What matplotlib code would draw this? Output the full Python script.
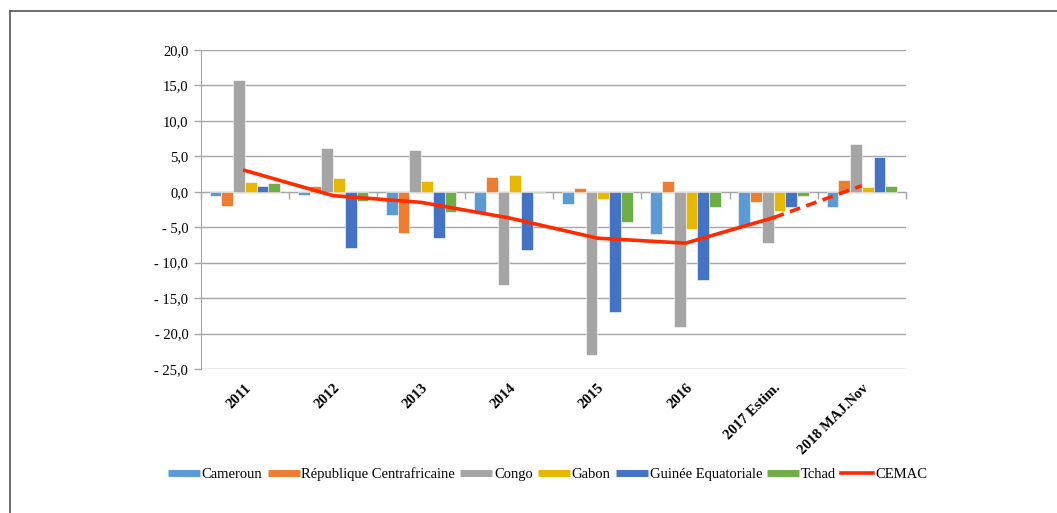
import matplotlib.pyplot as plt
import numpy as np
from matplotlib.lines import Line2D
from matplotlib.ticker import FuncFormatter, FixedLocator

# Categories and series
years = ['2011', '2012', '2013', '2014', '2015', '2016', '2017 Estim.', '2018 MAJ.Nov']
pays = ['Cameroun', 'République Centrafricaine', 'Congo', 'Gabon', 'Guinée Equatoriale', 'Tchad']
cameroun = [-0.6, -0.4, -3.3, -3.0, -1.8, -5.9, -4.8, -2.2]
rca = [-2.0, 0.8, -5.8, 2.1, 0.5, 1.5, -1.4, 1.65]
congo = [15.8, 6.2, 5.95, -13.1, -23.0, -19.1, -7.2, 6.7]
gabon = [1.4, 2.0, 1.5, 2.4, -1.0, -5.2, -2.7, 0.65]
guinee = [0.8, -8.0, -6.5, -8.2, -16.9, -12.5, -2.2, 4.95]
tchad = [1.2, -1.3, -2.9, -0.2, -4.2, -2.1, -0.65, 0.8]
cemac = [3.0, -0.55, -1.5, -3.7, -6.55, -7.25, -3.65, 0.85]

series = [cameroun, rca, congo, gabon, guinee, tchad]
colors = ['#5B9BD5', '#ED7D31', '#A5A5A5', '#E8B800', '#4472C4', '#70AD47']
red = '#FF2A00'
grid_c = '#A6A6A6'

plt.rcParams['font.family'] = ['Liberation Serif', 'DejaVu Serif']
plt.rcParams['font.size'] = 10.5

fig = plt.figure(figsize=(10.57, 5.13), dpi=100)
ax = fig.add_axes([0.190, 0.2807, 0.667, 0.622])

x = np.arange(len(years))
n = len(series)
w = 0.8 / n
for i, (vals, c) in enumerate(zip(series, colors)):
    ax.bar(x - 0.4 + w * (i + 0.5), vals, width=w, color=c, edgecolor='white',
           linewidth=0.4, zorder=3)

# CEMAC line: solid up to the estimate, dashed to the update
ax.plot(x[:7], cemac[:7], color=red, lw=2.6, zorder=4, solid_joinstyle='round')
ax.plot(x[6:], cemac[6:], color=red, lw=2.6, ls=(0, (3, 1.8)), zorder=4)

ax.set_xlim(-0.5, len(years) - 0.5)
ax.set_ylim(-25, 20)
ax.set_yticks(np.arange(-25, 21, 5))

def fmt(v, pos):
    s = f"{abs(v):.1f}".replace('.', ',')
    return ('- ' + s) if v < -1e-9 else s

ax.yaxis.set_major_formatter(FuncFormatter(fmt))
ax.grid(axis='y', color=grid_c, lw=1.0, zorder=0)
ax.tick_params(axis='y', length=5, color=grid_c, width=1.0, pad=4, labelsize=10.5)

for s in ['top', 'right']:
    ax.spines[s].set_visible(False)
ax.spines['left'].set_color(grid_c)
ax.spines['bottom'].set_color(grid_c)
ax.spines['bottom'].set_position(('data', 0))
ax.spines['bottom'].set_zorder(2)

# category boundary ticks on the zero line
ax.xaxis.set_major_locator(FixedLocator(np.arange(-0.5, len(years), 1.0)))
ax.tick_params(axis='x', length=5, color=grid_c, width=1.0, labelbottom=False)

# year labels at the bottom of the plot
sec = ax.secondary_xaxis(0)
sec.set_xticks(x, years)
sec.tick_params(length=0, pad=9)
sec.spines['bottom'].set_visible(False)
for lab in sec.get_xticklabels():
    lab.set_rotation(45)
    lab.set_ha('right')
    lab.set_va('top')
    lab.set_rotation_mode('anchor')
    lab.set_fontweight('bold')
    lab.set_fontsize(10.5)

handles = [Line2D([], [], color=c, lw=5, solid_capstyle='butt') for c in colors]
handles.append(Line2D([], [], color=red, lw=2.6))
fig.legend(handles, pays + ['CEMAC'], loc='center', bbox_to_anchor=(0.518, 0.076),
           ncol=7, frameon=False, handlelength=2.2, handletextpad=0.12,
           columnspacing=0.35, fontsize=10.5)

# outer frame (top and left edges visible)
fig.add_artist(Line2D([10 / 1057, 1], [1 - 11 / 513, 1 - 11 / 513],
                      transform=fig.transFigure, color='#555555', lw=1.2))
fig.add_artist(Line2D([10 / 1057, 10 / 1057], [0, 1 - 11 / 513],
                      transform=fig.transFigure, color='#555555', lw=1.2))

fig.savefig('out.png', dpi=100)
